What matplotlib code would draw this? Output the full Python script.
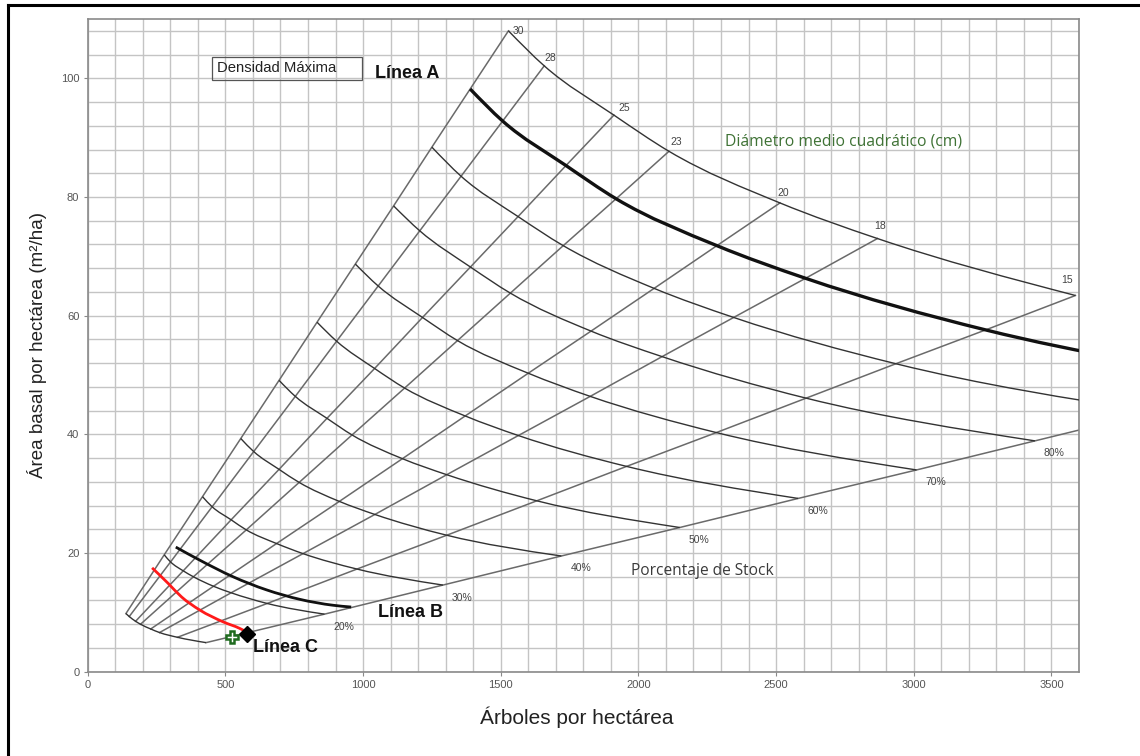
import numpy as np
import matplotlib.pyplot as plt
from matplotlib.patches import Rectangle, PathPatch
from matplotlib.path import Path
from matplotlib.lines import Line2D

# Diagrama de densidad: rectas de diámetro medio cuadrático (cm)
diametros = [30, 28, 25, 23, 20, 18, 15, 12]
etiquetas_diam = ['30', '28', '25', '23', '20', '18', '15']

stock = [10, 20, 30, 40, 50, 60, 70, 80, 90, 100]
arboles = [
    [139, 151, 174, 192, 229, 261, 326, 430],
    [278, 301, 347, 384, 457, 521, 652, 860],
    [417, 452, 521, 576, 686, 782, 978, 1290],
    [556, 603, 695, 768, 914, 1043, 1304, 1720],
    [695, 754, 869, 960, 1143, 1304, 1631, 2150],
    [833, 904, 1042, 1151, 1371, 1564, 1957, 2580],
    [972, 1055, 1216, 1343, 1600, 1825, 2283, 3010],
    [1111, 1206, 1390, 1535, 1828, 2086, 2609, 3440],
    [1250, 1356, 1563, 1727, 2057, 2346, 2935, 3870],
    [1389, 1507, 1737, 1919, 2285, 2607, 3261, 4300],
]
basal = [
    [9.8, 9.3, 8.5, 8.0, 7.2, 6.6, 5.8, 4.9],
    [19.7, 18.5, 17.0, 16.0, 14.4, 13.3, 11.5, 9.7],
    [29.5, 27.8, 25.6, 23.9, 21.6, 19.9, 17.3, 14.6],
    [39.3, 37.1, 34.1, 31.9, 28.7, 26.5, 23.0, 19.5],
    [49.1, 46.4, 42.7, 39.9, 35.9, 33.2, 28.8, 24.3],
    [58.9, 55.7, 51.1, 47.8, 43.1, 39.8, 34.6, 29.2],
    [68.7, 65.0, 59.7, 55.8, 50.3, 46.4, 40.3, 34.0],
    [78.5, 74.3, 68.2, 63.8, 57.4, 53.1, 46.1, 38.9],
    [88.4, 83.5, 76.7, 71.8, 64.6, 59.7, 51.9, 43.8],
    [98.2, 92.8, 85.3, 79.7, 71.8, 66.3, 57.6, 48.6],
]

# Densidad máxima (curva superior, de 30 a 15 cm)
max_arboles = [1528, 1658, 1911, 2111, 2514, 2868, 3587]
max_basal = [108.0, 102.1, 93.8, 87.7, 79.0, 73.0, 63.4]

# Línea B (gruesa) y línea roja
linea_b_arb = [320, 407, 528, 649, 770, 891, 957]
linea_b_ab = [21.0, 18.8, 16.0, 13.8, 12.2, 11.2, 10.9]
roja_arb = [234, 292, 341, 407, 492, 552, 577]
roja_ab = [17.5, 14.9, 12.6, 10.4, 8.4, 7.3, 6.7]

# puntos marcados
rombo = (580, 6.3)
cruz = (525, 5.9)

arboles = np.array(arboles, dtype=float)
basal = np.array(basal, dtype=float)


def curva(ax, xs, ys, **kw):
    # trazo suave (Bezier cúbico tipo Hermite) que pasa por los puntos leídos
    x = np.asarray(xs, dtype=float)
    y = np.asarray(ys, dtype=float)
    h = np.diff(x)
    d = np.diff(y) / h
    m = np.zeros_like(x)
    m[1:-1] = (h[:-1] * d[1:] + h[1:] * d[:-1]) / (h[:-1] + h[1:])
    m[0] = (3 * d[0] - m[1]) / 2 if len(x) > 2 else d[0]
    m[-1] = (3 * d[-1] - m[-2]) / 2 if len(x) > 2 else d[-1]
    verts = [(x[0], y[0])]
    codes = [Path.MOVETO]
    for i in range(len(x) - 1):
        verts += [(x[i] + h[i] / 3, y[i] + m[i] * h[i] / 3),
                  (x[i + 1] - h[i] / 3, y[i + 1] - m[i + 1] * h[i] / 3),
                  (x[i + 1], y[i + 1])]
        codes += [Path.CURVE4] * 3
    ax.add_patch(PathPatch(Path(verts, codes), fill=False, capstyle='butt', **kw))


fig = plt.figure(figsize=(11.4, 7.56), dpi=100)
ax = fig.add_axes([0.0769, 0.1115, 0.8696, 0.8634])

# rejilla
ax.set_xlim(0, 3600)
ax.set_ylim(0, 110)
ax.set_xticks(np.arange(0, 3501, 500))
ax.set_xticks(np.arange(0, 3601, 100), minor=True)
ax.set_yticks(np.arange(0, 101, 20))
ax.set_yticks(np.arange(0, 110, 4), minor=True)
ax.grid(True, which='both', color='#c4c4c4', linewidth=1.0)
ax.set_axisbelow(True)
ax.tick_params(which='minor', length=0)
ax.tick_params(which='major', length=3, color='#888888', labelsize=8,
               labelcolor='#555555', pad=3)
for lab in ax.get_xticklabels() + ax.get_yticklabels():
    lab.set_family('Liberation Sans')
for s in ax.spines.values():
    s.set_color('#8a8a8a')
    s.set_linewidth(1.2)

# rectas de diámetro
for j, d in enumerate(diametros):
    xs = list(arboles[:, j])
    ys = list(basal[:, j])
    if j < len(max_arboles):
        xs.append(max_arboles[j])
        ys.append(max_basal[j])
    ax.plot(xs, ys, color='#6a6a6a', lw=1.1, zorder=2)

# curvas de stock
for i, s in enumerate(stock):
    if s == 100:
        curva(ax, arboles[i], basal[i], ec='#111111', lw=2.4, zorder=3)
    else:
        curva(ax, arboles[i], basal[i], ec='#333333', lw=1.0, zorder=3)
curva(ax, max_arboles, max_basal, ec='#333333', lw=1.0, zorder=3)

curva(ax, linea_b_arb, linea_b_ab, ec='#111111', lw=2.0, zorder=4)
curva(ax, roja_arb, roja_ab, ec='#ff1a1a', lw=2.0, zorder=4)
ax.plot(*rombo, marker='D', ms=8, color='black', zorder=5)
ax.plot(*cruz, marker='P', ms=9, mfc='white', mec='#1f6b1f', mew=1.8, zorder=5)

# etiquetas de diámetro
offs_diam = [(3, 0), (0, 6), (3, 5), (1, 7), (-2, 7), (-2, 9), (-10, 11)]
for k, lab in enumerate(etiquetas_diam):
    ax.annotate(lab, (max_arboles[k], max_basal[k]), xytext=offs_diam[k],
                textcoords='offset points', fontsize=7.5, color='#444444',
                ha='left', va='center', family='Liberation Sans')

# etiquetas de porcentaje
for i, s in enumerate(stock):
    if 20 <= s <= 80:
        ax.annotate('%d%%' % s, (arboles[i, -1], basal[i, -1]), xytext=(14, -9),
                    textcoords='offset points', fontsize=7.5, color='#444444',
                    ha='center', va='center', family='Liberation Sans')

# textos
ax.add_patch(Rectangle((452, 99.8), 544, 3.8, fill=False, ec='#555555', lw=0.9, zorder=6))
ax.text(469, 101.7, 'Densidad Máxima', fontsize=10.7, va='center', ha='left',
        family='Liberation Sans', color='#222222', zorder=6)
ax.text(1042, 100.8, 'Línea A', fontsize=13, fontweight='bold', va='center',
        family='Liberation Sans', color='#111111', zorder=6)
ax.text(1053, 10.0, 'Línea B', fontsize=13, fontweight='bold', va='center',
        family='Liberation Sans', color='#111111', zorder=6)
ax.text(600, 4.1, 'Línea C', fontsize=13, fontweight='bold', va='center',
        family='Liberation Sans', color='#111111', zorder=6)
ax.text(2315, 89.3, 'Diámetro medio cuadrático (cm)', fontsize=11.3, va='center',
        family='Open Sans', color='#3f7235', zorder=6)
ax.text(1974, 16.9, 'Porcentaje de Stock', fontsize=11.2, va='center',
        family='Open Sans', color='#3a3a3a', zorder=6)

ax.set_xlabel('Árboles por hectárea', fontsize=15, family='Liberation Sans',
              color='#222222', labelpad=12, x=0.493)
ax.set_ylabel('Área basal por hectárea (m²/ha)', fontsize=13.5,
              family='Liberation Sans', color='#222222', labelpad=10)

# marco exterior (izquierda y arriba)
fig.add_artist(Line2D([8 / 1140, 8 / 1140], [0, 1 - 5 / 756], color='black', lw=2.2))
fig.add_artist(Line2D([8 / 1140, 1], [1 - 5 / 756, 1 - 5 / 756], color='black', lw=2.2))

fig.savefig('out.png', dpi=100)
